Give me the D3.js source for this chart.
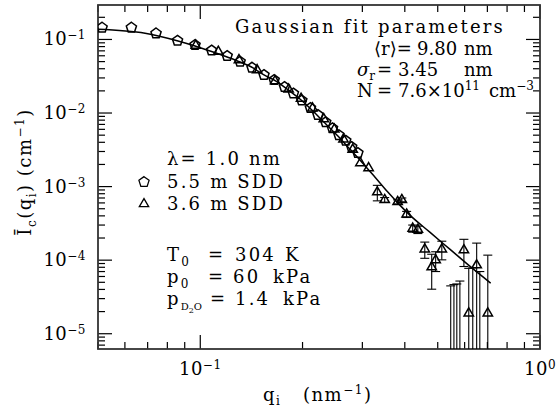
<!DOCTYPE html>
<html>
<head>
<meta charset="utf-8">
<script src="https://cdn.jsdelivr.net/npm/d3@7"></script>
<style>
  body { margin: 0; background: #fff; }
  text { font-family: "DejaVu Serif", serif; fill: #000; }
</style>
</head>
<body>
<div id="viz"></div>
<script>
// 5.5 m SDD (pentagons)
var q55 = [0.0514, 0.0627, 0.0741, 0.0857, 0.0965, 0.108, 0.120, 0.131, 0.142, 0.154, 0.165,
           0.177, 0.188, 0.199, 0.211, 0.222, 0.234, 0.245, 0.256, 0.268, 0.279, 0.291];
var I55 = [0.145, 0.145, 0.121, 0.0963, 0.0842, 0.0709, 0.0597, 0.0499, 0.0414, 0.0329, 0.0281,
           0.0226, 0.0184, 0.0148, 0.0117, 0.0094, 0.0075, 0.0062, 0.0050, 0.0042, 0.00345, 0.00286];

// 3.6 m SDD (triangles) with error
var q36 = [0.097, 0.113, 0.130, 0.147, 0.166, 0.182, 0.198, 0.214, 0.231, 0.248, 0.264, 0.281,
           0.296, 0.313, 0.332, 0.349, 0.381, 0.392, 0.405, 0.422, 0.437, 0.458, 0.480, 0.493,
           0.514, 0.546, 0.558, 0.569, 0.581, 0.597, 0.617, 0.634, 0.651, 0.665, 0.702];
var I36 = [0.0829, 0.0683, 0.0526, 0.0385, 0.0272, 0.0210, 0.0157, 0.0116, 0.0083, 0.0060, 0.0044, 0.0032,
           0.00209, 0.00179, 0.00084, 0.00066, 0.00062, 0.00066, 0.00042, 0.00027, 0.00026, 0.000141, 0.0000803, 0.0001,
           0.000141, 0.000003, 0.000003, 0.000003, 0.000003, 0.000137, 0.000019, 0.000004, 0.0000855, 0.000004, 0.000019];
var e36 = [0, 0, 0, 0, 0, 0, 0, 0, 0, 0, 0, 0,
           0, 0, 0.0002, 0.00005, 0.00004, 0.00004, 0.00004, 0.00003, 0.00003, 0.000035, 0.00004, 0.00003,
           0.00004, 0.0000417, 0.0000435, 0.0000445, 0.000049, 0.000055, 0.0000584, 0.0000746, 0.000085, 0.000066, 0.000098];

// Gaussian fit curve
var fitQ = [0.05, 0.0688, 0.086, 0.0965, 0.108, 0.120, 0.131, 0.143, 0.154, 0.167, 0.180, 0.1965,
            0.213, 0.2327, 0.2524, 0.2756, 0.299, 0.3265, 0.3565, 0.3868, 0.414, 0.4739, 0.5426, 0.6213, 0.716];
var fitI = [0.1376, 0.1215, 0.0954, 0.0816, 0.0687, 0.0578, 0.0494, 0.0410, 0.0329, 0.0272, 0.0212, 0.0155,
            0.0110, 0.00731, 0.00502, 0.00324, 0.00215, 0.00135, 0.000841, 0.00056, 0.000409, 0.00024, 0.000141, 0.0000828, 0.0000487];

var xMajor = [0.1, 1], xExp = ['−1', '0'];
var yMajor = [1e-1, 1e-2, 1e-3, 1e-4, 1e-5], yExp = ['−1', '−2', '−3', '−4', '−5'];

var width = 557, height = 415;
var pL = 98, pR = 540, pT = 5, pB = 349;

var x = d3.scaleLog().domain([0.05, 1]).range([pL, pR]);
var y = d3.scaleLog().domain([0.294, 6.2e-6]).range([pT, pB]);

var svg = d3.select('#viz').append('svg')
    .attr('width', width)
    .attr('height', height);

svg.append('defs').append('clipPath').attr('id', 'clip')
  .append('rect').attr('x', pL).attr('y', pT).attr('width', pR - pL).attr('height', pB - pT);

// ticks on all four sides, pointing in
var ax = svg.append('g').attr('stroke', '#000').attr('stroke-width', 1.2);
x.ticks().forEach(function(v) {
    var major = xMajor.some(function(m) { return Math.abs(m - v) < 1e-9; });
    var len = major ? 14 : 7, px = x(v);
    ax.append('line').attr('x1', px).attr('x2', px).attr('y1', pB).attr('y2', pB - len);
    ax.append('line').attr('x1', px).attr('x2', px).attr('y1', pT).attr('y2', pT + len);
});
y.ticks().forEach(function(v) {
    if (v < y.domain()[1] || v > y.domain()[0]) return;
    var major = yMajor.some(function(m) { return Math.abs(m - v) / m < 1e-6; });
    var len = major ? 14 : 7, py = y(v);
    ax.append('line').attr('x1', pL).attr('x2', pL + len).attr('y1', py).attr('y2', py);
    ax.append('line').attr('x1', pR).attr('x2', pR - len).attr('y1', py).attr('y2', py);
});

svg.append('rect')
    .attr('x', pL).attr('y', pT)
    .attr('width', pR - pL).attr('height', pB - pT)
    .attr('fill', 'none').attr('stroke', '#333').attr('stroke-width', 1.8);

// rich text helper: sub/superscripts
function rich(g, px, py, parts, anchor, ls) {
    var t = g.append('text').attr('x', px).attr('y', py)
        .attr('text-anchor', anchor || 'start')
        .attr('font-size', 18)
        .attr('letter-spacing', ls == null ? 2.2 : ls);
    var cur = 0;
    parts.forEach(function(p) {
        var off = p.sup ? -7 : (p.sub ? 5 : 0);
        if (p.off != null) off = p.off;
        var ts = t.append('tspan').text(p.t).attr('dy', off - cur);
        if (p.x != null) ts.attr('x', p.x);
        if (p.sup || p.sub) ts.attr('font-size', p.fs || 12);
        if (p.ls != null) ts.attr('letter-spacing', p.ls);
        if (p.it) ts.attr('font-style', 'italic');
        cur = off;
    });
    return t;
}

// tick labels
xMajor.forEach(function(v, i) {
    rich(svg, x(v), 375, [{t: '10'}, {t: xExp[i], sup: true, off: -6}], 'middle', 0.5);
});
yMajor.forEach(function(v, i) {
    rich(svg, 86, y(v) + 6, [{t: '10'}, {t: yExp[i], sup: true, off: -6}], 'end', 0.5);
});

// axis titles
rich(svg, 263, 401, [{t: 'q'}, {t: 'i', sub: true, off: 4}, {t: '(nm', x: 303}, {t: '−1', sup: true}, {t: ')'}], 'start', 1.5);
rich(svg.append('g').attr('transform', 'translate(31,172) rotate(-90)'), 0, 0,
    [{t: 'Ī'}, {t: 'c', sub: true}, {t: '(q'}, {t: 'i', sub: true}, {t: ')    (cm'}, {t: '−1', sup: true}, {t: ')'}],
    'middle', 1.5);

// plot contents
var plot = svg.append('g').attr('clip-path', 'url(#clip)');

var line = d3.line()
    .x(function(d, i) { return x(fitQ[i]); })
    .y(function(d, i) { return y(fitI[i]); })
    .curve(d3.curveMonotoneX);
plot.append('path').datum(fitQ)
    .attr('d', line)
    .attr('fill', 'none').attr('stroke', '#000').attr('stroke-width', 1.5);

var pentagon = {
    draw: function(ctx, size) {
        var r = Math.sqrt(size / 2.378);
        for (var k = 0; k < 5; k++) {
            var a = -Math.PI / 2 + k * 2 * Math.PI / 5;
            if (k === 0) ctx.moveTo(r * Math.cos(a), r * Math.sin(a));
            else ctx.lineTo(r * Math.cos(a), r * Math.sin(a));
        }
        ctx.closePath();
    }
};
var penta = d3.symbol().type(pentagon).size(68);
var tri = d3.symbol().type(d3.symbolTriangle).size(38);

// error bars (triangles)
var yFloor = pB + 10;
var eb = plot.append('g').attr('stroke', '#000').attr('stroke-width', 1.1);
q36.forEach(function(q, i) {
    if (!e36[i]) return;
    var px = x(q);
    var hi = y(I36[i] + e36[i]);
    var lo = I36[i] - e36[i] > 0 ? y(I36[i] - e36[i]) : yFloor;
    eb.append('line').attr('x1', px).attr('x2', px).attr('y1', hi).attr('y2', lo);
    eb.append('line').attr('x1', px - 4.5).attr('x2', px + 4.5).attr('y1', hi).attr('y2', hi);
    eb.append('line').attr('x1', px - 4.5).attr('x2', px + 4.5).attr('y1', lo).attr('y2', lo);
});

plot.selectAll('.p55').data(q55).enter().append('path')
    .attr('class', 'p55')
    .attr('d', penta)
    .attr('transform', function(d, i) { return 'translate(' + x(d) + ',' + y(I55[i]) + ')'; })
    .attr('fill', 'none').attr('stroke', '#000').attr('stroke-width', 1.5);

plot.selectAll('.p36').data(q36).enter().append('path')
    .attr('class', 'p36')
    .attr('d', tri)
    .attr('transform', function(d, i) { return 'translate(' + x(d) + ',' + y(I36[i]) + ')'; })
    .attr('fill', 'none').attr('stroke', '#000').attr('stroke-width', 1.5);

// annotations
rich(svg, 235, 33, [{t: 'Gaussian fit parameters'}]);
rich(svg, 374, 55, [{t: '⟨r⟩='}, {t: '9.80', x: 417}, {t: 'nm', x: 464}], 'start', 0);
rich(svg, 357, 76, [{t: 'σ', it: true}, {t: 'r', sub: true, off: 4}, {t: '=', x: 377}, {t: '3.45', x: 398}, {t: 'nm', x: 464}], 'start', 0);
rich(svg, 357, 97, [{t: 'N'}, {t: '=', x: 377}, {t: '7.6×10', x: 398}, {t: '11', sup: true}, {t: 'cm', x: 489}, {t: '−3', sup: true}], 'start', 0);

rich(svg, 167, 165, [{t: 'λ= 1.0 nm'}]);
rich(svg, 167, 188, [{t: '5.5 m SDD'}]);
rich(svg, 167, 210, [{t: '3.6 m SDD'}]);
svg.append('path').attr('d', penta).attr('transform', 'translate(144,182)')
    .attr('fill', 'none').attr('stroke', '#000').attr('stroke-width', 1.3);
svg.append('path').attr('d', tri).attr('transform', 'translate(144,204)')
    .attr('fill', 'none').attr('stroke', '#000').attr('stroke-width', 1.3);

rich(svg, 167, 261, [{t: 'T'}, {t: '0', sub: true}, {t: '=', x: 208}, {t: '304', x: 235}, {t: 'K', x: 285}]);
rich(svg, 167, 283, [{t: 'p'}, {t: '0', sub: true}, {t: '=', x: 208}, {t: '60', x: 233}, {t: 'kPa', x: 273}]);
rich(svg, 167, 305, [{t: 'p'}, {t: 'D', sub: true, fs: 10, ls: 0}, {t: '2', off: 8, fs: 8, sub: true, ls: 0}, {t: 'O', sub: true, fs: 10, ls: 0},
    {t: '=', x: 210}, {t: '1.4', x: 235}, {t: 'kPa', x: 283}]);
</script>
</body>
</html>
